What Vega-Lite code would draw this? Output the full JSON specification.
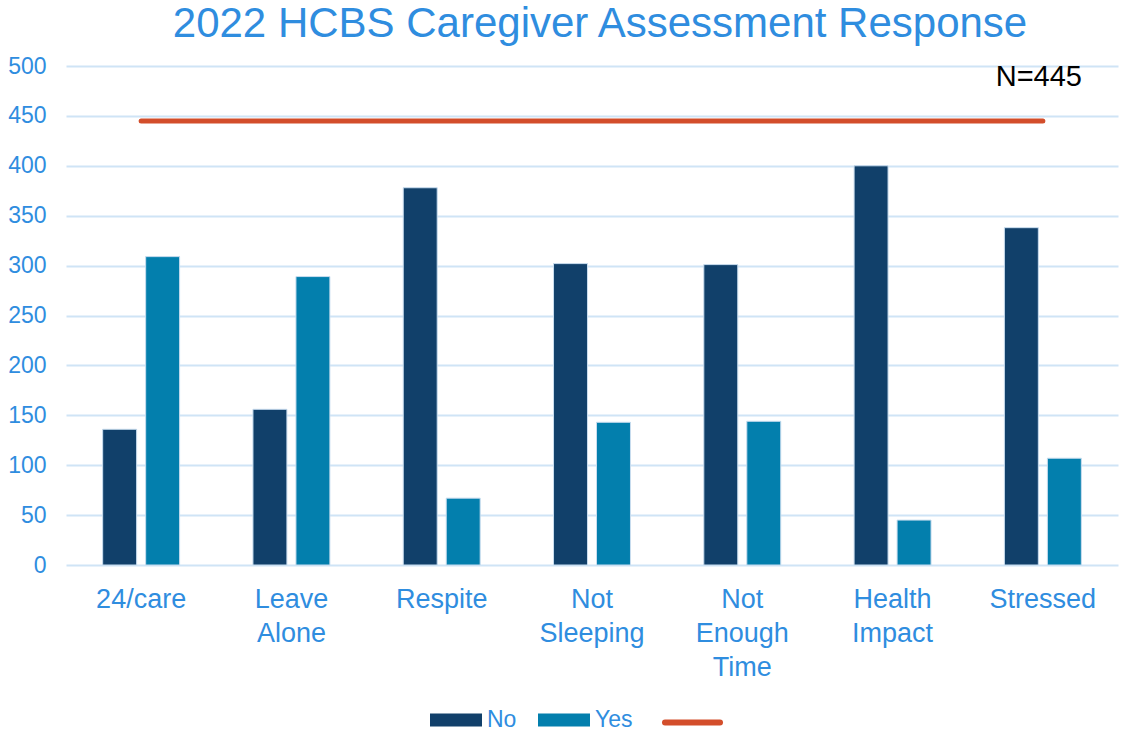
{
  "$schema": "https://vega.github.io/schema/vega-lite/v6.json",
  "autosize": {"type": "none"},
  "padding": {"left": 66, "top": 66, "right": 6, "bottom": 166},
  "width": 1052,
  "height": 499,
  "background": "white",
  "config": {
    "view": {"stroke": null},
    "font": "Liberation Sans"
  },
  "title": {
    "text": "2022 HCBS Caregiver Assessment Response",
    "fontSize": 42,
    "fontWeight": "normal",
    "color": "#2F8DDF",
    "font": "Liberation Sans",
    "anchor": "middle",
    "dx": 8,
    "offset": 9
  },
  "datasets": {
    "bars": [
      {"cat": "24/care", "answer": "No", "count": 136},
      {"cat": "24/care", "answer": "Yes", "count": 309},
      {"cat": "Leave Alone", "answer": "No", "count": 156},
      {"cat": "Leave Alone", "answer": "Yes", "count": 289},
      {"cat": "Respite", "answer": "No", "count": 378},
      {"cat": "Respite", "answer": "Yes", "count": 67},
      {"cat": "Not Sleeping", "answer": "No", "count": 302},
      {"cat": "Not Sleeping", "answer": "Yes", "count": 143},
      {"cat": "Not Enough Time", "answer": "No", "count": 301},
      {"cat": "Not Enough Time", "answer": "Yes", "count": 144},
      {"cat": "Health Impact", "answer": "No", "count": 400},
      {"cat": "Health Impact", "answer": "Yes", "count": 45},
      {"cat": "Stressed", "answer": "No", "count": 338},
      {"cat": "Stressed", "answer": "Yes", "count": 107}
    ],
    "total": [
      {"cat": "24/care", "n": 445},
      {"cat": "Leave Alone", "n": 445},
      {"cat": "Respite", "n": 445},
      {"cat": "Not Sleeping", "n": 445},
      {"cat": "Not Enough Time", "n": 445},
      {"cat": "Health Impact", "n": 445},
      {"cat": "Stressed", "n": 445}
    ],
    "note": [{"label": "N=445"}]
  },
  "encoding": {
    "x": {
      "field": "cat",
      "type": "nominal",
      "scale": {
        "domain": ["24/care", "Leave Alone", "Respite", "Not Sleeping", "Not Enough Time", "Health Impact", "Stressed"],
        "paddingInner": 0.488,
        "paddingOuter": 0.244
      },
      "axis": {
        "title": null,
        "labelAngle": 0,
        "labelFontSize": 27,
        "labelColor": "#2F8DDF",
        "labelFont": "Liberation Sans",
        "labelLineHeight": 34,
        "labelPadding": 21,
        "labelExpr": "split(datum.label, ' ')",
        "domain": false,
        "ticks": false,
        "grid": false
      }
    }
  },
  "layer": [
    {
      "data": {"name": "bars"},
      "mark": {"type": "bar", "stroke": "#C9DDEF", "strokeWidth": 1},
      "encoding": {
        "xOffset": {"field": "answer", "type": "nominal", "scale": {"paddingInner": 0.21, "paddingOuter": 0}},
        "y": {
          "field": "count",
          "type": "quantitative",
          "scale": {"domain": [0, 500], "nice": false},
          "axis": {
            "title": null,
            "values": [0, 50, 100, 150, 200, 250, 300, 350, 400, 450, 500],
            "labelFontSize": 23,
            "labelColor": "#2F8DDF",
            "labelFont": "Liberation Sans",
            "labelPadding": 20,
            "domain": false,
            "ticks": false,
            "grid": true,
            "gridColor": "#CFE4F6",
            "gridWidth": 2
          }
        },
        "fill": {
          "field": "answer",
          "type": "nominal",
          "scale": {"domain": ["No", "Yes"], "range": ["#11406A", "#037FAD"]},
          "legend": {
            "title": null,
            "orient": "none",
            "legendX": 364,
            "legendY": 628,
            "direction": "horizontal",
            "symbolType": "M-1,-0.25H1V0.25H-1Z",
            "symbolSize": 2704,
            "symbolStrokeWidth": 0,
            "labelFontSize": 23,
            "labelColor": "#2F8DDF",
            "labelFont": "Liberation Sans",
            "labelOffset": 5,
            "columnPadding": 21
          }
        }
      }
    },
    {
      "data": {"name": "total"},
      "mark": {"type": "line", "strokeWidth": 5, "strokeCap": "round"},
      "encoding": {
        "y": {"field": "n", "type": "quantitative"},
        "stroke": {
          "datum": "Total",
          "type": "nominal",
          "scale": {"domain": ["Total"], "range": ["#D34E2B"]},
          "legend": {
            "title": null,
            "orient": "none",
            "legendX": 596,
            "legendY": 626,
            "symbolType": "stroke",
            "symbolSize": 3025,
            "symbolStrokeWidth": 6,
            "labelExpr": "''",
            "labelFontSize": 23,
            "encode": {
              "symbols": {"update": {"strokeCap": {"value": "round"}}}
            }
          }
        }
      }
    },
    {
      "data": {"name": "note"},
      "mark": {"type": "text", "fontSize": 29, "color": "#000000", "font": "Liberation Sans", "baseline": "middle", "align": "center", "dx": -4},
      "encoding": {
        "x": {"datum": "Stressed"},
        "y": {"datum": 489},
        "text": {"field": "label"}
      }
    }
  ]
}
